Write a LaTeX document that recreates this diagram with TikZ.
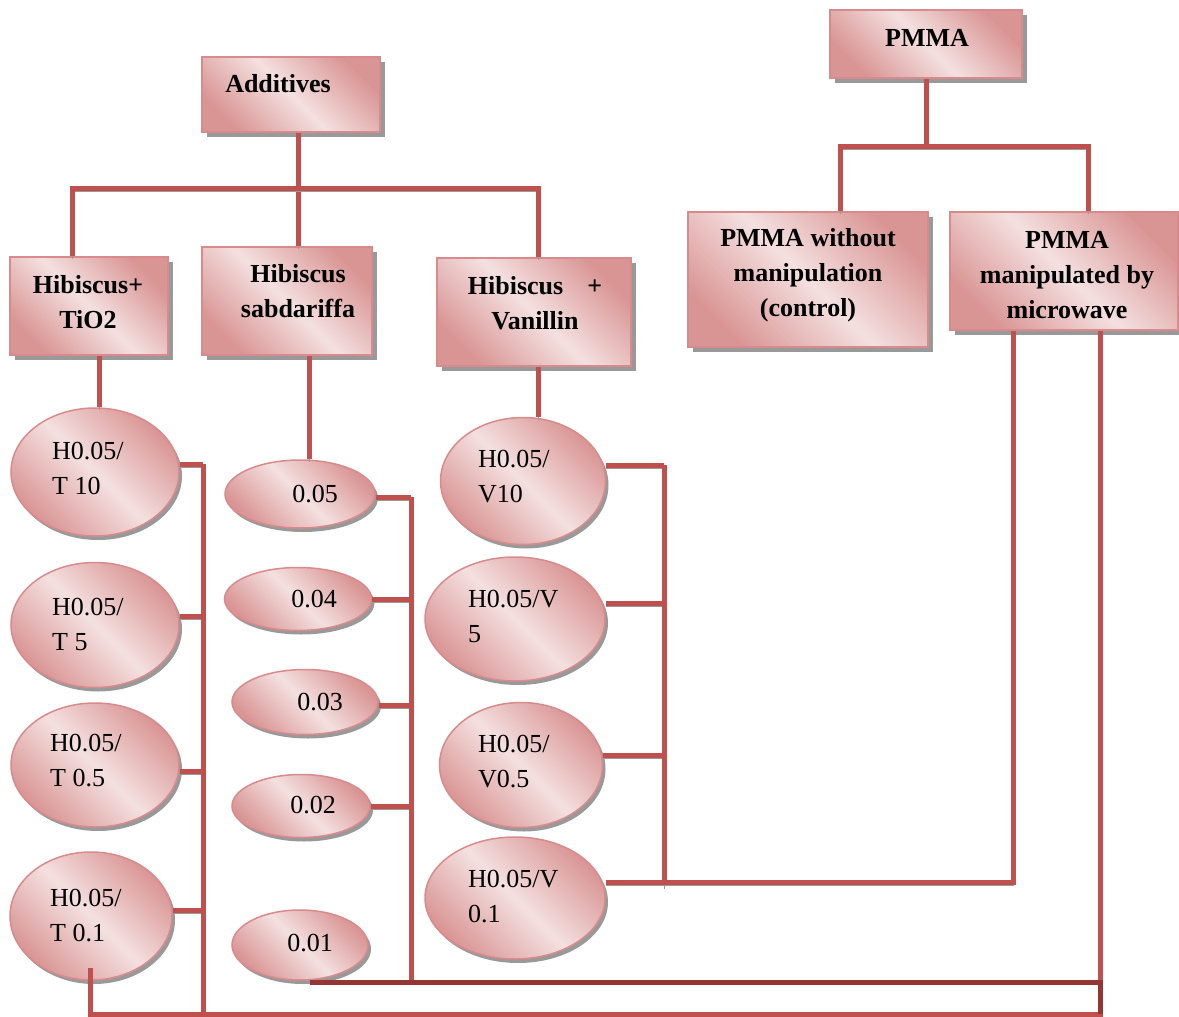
\documentclass[tikz,border=0pt]{standalone}
\usepackage{fontspec}
\setmainfont{Liberation Serif}
\usetikzlibrary{shapes.geometric,shadows}
\definecolor{lineR}{HTML}{C0504D}
\definecolor{lineD}{HTML}{943634}
\definecolor{pinkD}{HTML}{D99594}
\definecolor{pinkL}{HTML}{F4E0E0}
\definecolor{edgeP}{HTML}{D98A8C}
\tikzset{
  grad/.style={left color=pinkD, right color=pinkD, middle color=pinkL, shading angle=135},
  box/.style={rectangle, draw=edgeP, line width=1.5pt, grad, inner sep=0pt,
    drop shadow={shadow xshift=5pt, shadow yshift=-5pt, fill=black, opacity=0.4}},
  oval/.style={ellipse, draw=edgeP, line width=1.5pt, grad, inner sep=0pt,
    drop shadow={shadow xshift=3pt, shadow yshift=-4pt, fill=black, opacity=0.4}},
  lbl/.style={font=\fontsize{26}{35}\selectfont, align=left, inner sep=0pt},
  blbl/.style={font=\bfseries\fontsize{26}{35}\selectfont, align=center, inner sep=0pt},
  wire/.style={draw=lineR, line width=5pt,
    preaction={draw=gray!80, transform canvas={yshift=-3pt}}},
  wired/.style={draw=lineD, line width=5pt},
}
\begin{document}
\begin{tikzpicture}[x=1pt,y=-1pt]
\useasboundingbox (0,0) rectangle (1179,1017);

% boxes
\node[box, minimum width=178, minimum height=75] (add) at (291,94.5) {};
\node[blbl] (addT) at (278,84) {Additives};
\node[box, minimum width=192, minimum height=68] (pmma) at (926,44) {};
\node[blbl] (pmmaT) at (927,38) {PMMA};
\node[box, minimum width=158, minimum height=98] (tio) at (89,306) {};
\node[blbl] (tioT) at (88,302.5) {Hibiscus+\\TiO2};
\node[box, minimum width=170, minimum height=108] (sab) at (287,301) {};
\node[blbl] (sabT) at (298,291.5) {Hibiscus\\sabdariffa};
\node[box, minimum width=194, minimum height=108] (van) at (534,312) {};
\node[blbl] (vanT) at (535,303.5) {Hibiscus\hspace{24pt}+\\Vanillin};
\node[box, minimum width=240, minimum height=135] (ctrl) at (808,279.5) {};
\node[blbl] (ctrlT) at (808,275.5) {PMMA without\\manipulation\\(control)};
\node[box, minimum width=228, minimum height=118] (mw) at (1064,271) {};
\node[blbl] (mwT) at (1067,275.5) {PMMA\\manipulated by\\microwave};

% TiO2 ellipses
\node[oval, minimum width=168, minimum height=128] (e1) at (95,472) {};
\node[lbl, anchor=west] (e1T) at (52,468) {H0.05/\\T 10};
\node[oval, minimum width=168, minimum height=125] (e2) at (95,625) {};
\node[lbl, anchor=west] (e2T) at (52,624) {H0.05/\\T 5};
\node[oval, minimum width=168, minimum height=124] (e3) at (95,765) {};
\node[lbl, anchor=west] (e3T) at (50,761) {H0.05/\\T 0.5};
\node[oval, minimum width=162, minimum height=128] (e4) at (91,916) {};
\node[lbl, anchor=west] (e4T) at (50,916) {H0.05/\\T 0.1};

% sabdariffa ellipses
\node[oval, minimum width=150, minimum height=68] (m1) at (300,494) {};
\node[lbl] (m1T) at (315,494) {0.05};
\node[oval, minimum width=147, minimum height=63] (m2) at (298,599) {};
\node[lbl] (m2T) at (314,599) {0.04};
\node[oval, minimum width=146, minimum height=65] (m3) at (305,702) {};
\node[lbl] (m3T) at (320,702) {0.03};
\node[oval, minimum width=138, minimum height=63] (m4) at (301,806) {};
\node[lbl] (m4T) at (313,805) {0.02};
\node[oval, minimum width=136, minimum height=70] (m5) at (300,945) {};
\node[lbl] (m5T) at (310,943) {0.01};

% vanillin ellipses
\node[oval, minimum width=165, minimum height=127] (v1) at (523,481) {};
\node[lbl, anchor=west] (v1T) at (478,477) {H0.05/\\V10};
\node[oval, minimum width=180, minimum height=124] (v2) at (515,619) {};
\node[lbl, anchor=west] (v2T) at (468,616) {H0.05/V\\5};
\node[oval, minimum width=163, minimum height=125] (v3) at (521,765) {};
\node[lbl, anchor=west] (v3T) at (478,762) {H0.05/\\V0.5};
\node[oval, minimum width=180, minimum height=122] (v4) at (515,898) {};
\node[lbl, anchor=west] (v4T) at (468,897) {H0.05/V\\0.1};

% helper coordinates
\coordinate (busA) at (298,188);
\coordinate (bL) at (72,188);
\coordinate (bR) at (538,188);
\coordinate (pL) at (840,146);
\coordinate (pR) at (1088,146);
\coordinate (c1) at (99,0);
\coordinate (c2) at (309,0);
\coordinate (lx) at (203,0);
\coordinate (mx) at (411,0);
\coordinate (rx) at (664,0);
\coordinate (mwL) at (1013,0);
\coordinate (mwR) at (1100,0);
\coordinate (k1) at (90,968);
\coordinate (k2) at (310,982);
\coordinate (bb) at (0,1014);

% tree connectors
\draw[wire] (busA |- add.south) -- (busA |- sab.north);
\draw[wire] (bL |- tio.north) -- (bL) -- (bR) -- (bR |- van.north);
\draw[wire] (pmma.south) -- (pmma.south |- pL);
\draw[wire] (pL |- ctrl.north) -- (pL) -- (pR) -- (pR |- mw.north);
\draw[wire] (c1 |- tio.south) -- (c1 |- e1.north);
\draw[wire] (c2 |- sab.south) -- (c2 |- m1.north);
\draw[wire] (bR |- van.south) -- (bR |- v1.north);

% TiO2 column
\draw[wire] ([yshift=8pt]e1.east) -- ([yshift=8pt]e1.east -| lx);
\draw[wire] ([yshift=9pt]e2.east) -- ([yshift=9pt]e2.east -| lx);
\draw[wire] ([yshift=-6pt]e3.east) -- ([yshift=-6pt]e3.east -| lx);
\draw[wire] ([yshift=6pt]e4.east) -- ([yshift=6pt]e4.east -| lx);
\draw[wire] ([yshift=8pt]e1.east -| lx) -- (lx |- bb);

% sabdariffa column
\draw[wire] ([yshift=-3pt]m1.east) -- ([yshift=-3pt]m1.east -| mx);
\draw[wire] (m2.east) -- (m2.east -| mx);
\draw[wire] ([yshift=-3pt]m3.east) -- ([yshift=-3pt]m3.east -| mx);
\draw[wire] (m4.east) -- (m4.east -| mx);
\draw[wire] ([yshift=-3pt]m1.east -| mx) -- (mx |- k2);

% vanillin column
\draw[wire] ([yshift=16pt]v1.east) -- ([yshift=16pt]v1.east -| rx);
\draw[wire] ([yshift=16pt]v2.east) -- ([yshift=16pt]v2.east -| rx);
\draw[wire] ([yshift=10pt]v3.east) -- ([yshift=10pt]v3.east -| rx);
\draw[wire] ([yshift=16pt]v1.east -| rx) -- ([yshift=12pt]v4.east -| rx);
\draw[wire] ([yshift=16pt]v4.east) -| (mwL |- mw.south);

% long connectors to microwave box
\draw[wire] (k1) -- (k1 |- bb) -| (mwR |- mw.south);
\draw[wired] (k2) -- (mwR |- k2) -- (mwR |- bb);
\end{tikzpicture}
\end{document}
